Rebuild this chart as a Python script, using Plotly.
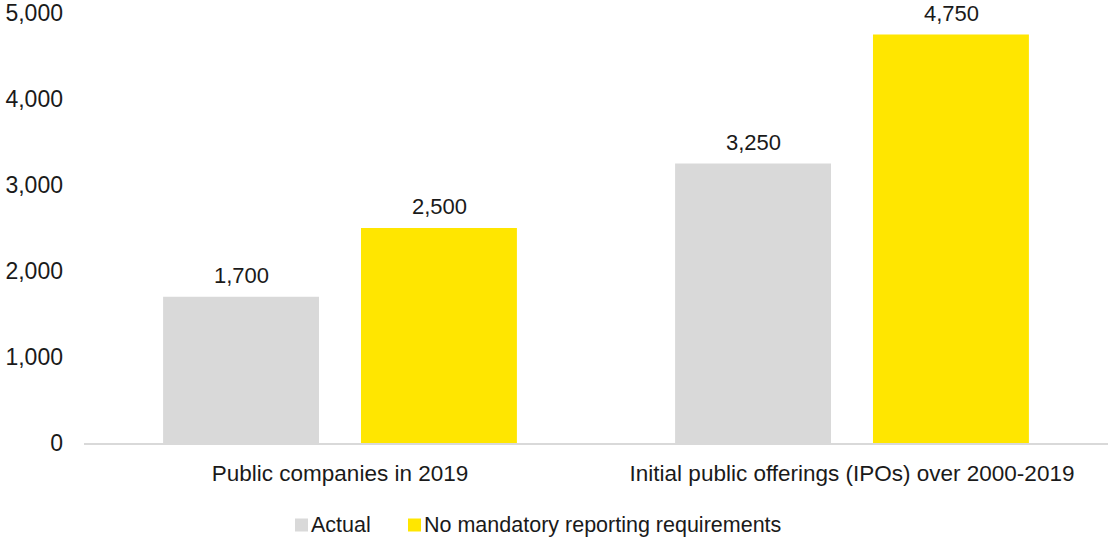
import plotly.graph_objects as go

categories = ["Public companies in 2019", "Initial public offerings (IPOs) over 2000-2019"]
actual = [1700, 3250]
no_mandatory = [2500, 4750]
series_names = ["Actual", "No mandatory reporting requirements"]
colors = ["#D9D9D9", "#FFE600"]
font_family = "Liberation Sans, Arial, sans-serif"
TXT = "#1a1a1a"

# plot-area geometry (pixels)
L, R, T, B = 84, 1, 13, 94
W, H = 1109, 537
PW, PH = W - L - R, H - T - B

fig = go.Figure()
for name, vals, col in zip(series_names, [actual, no_mandatory], colors):
    fig.add_trace(go.Bar(
        x=categories, y=vals, name=name, marker=dict(color=col, line=dict(width=0)),
        hoverinfo="skip", offsetgroup=name, showlegend=False, cliponaxis=False,
    ))

annotations = []
shapes = []
for si, vals in enumerate([actual, no_mandatory]):
    for ci, v in enumerate(vals):
        annotations.append(dict(
            x=ci, y=v, xref="x", yref="y", text=f"{v:,}", showarrow=False,
            yanchor="bottom", yshift=7, xshift=(-99 if si == 0 else 99),
            font=dict(size=22, color=TXT, family=font_family),
        ))

# custom legend (compact, as in the reference)
leg_y_px = 525
leg_items = [(295, series_names[0], colors[0]), (408, series_names[1], colors[1])]
sq = 13
for x0, name, col in leg_items:
    shapes.append(dict(
        type="rect", xref="paper", yref="paper",
        x0=(x0 - L) / PW, x1=(x0 + sq - L) / PW,
        y0=(H - B - (leg_y_px + sq / 2)) / PH, y1=(H - B - (leg_y_px - sq / 2)) / PH,
        fillcolor=col, line=dict(width=0),
    ))
    annotations.append(dict(
        x=(x0 + sq + 1 - L) / PW, y=(H - B - leg_y_px) / PH, xref="paper", yref="paper",
        text=name, showarrow=False, xanchor="left", yanchor="middle",
        font=dict(size=21.5, color=TXT, family=font_family),
    ))

fig.update_layout(
    width=W, height=H,
    margin=dict(l=L, r=R, t=T, b=B),
    paper_bgcolor="white", plot_bgcolor="white",
    barmode="group", bargap=0.227, bargroupgap=0.212,
    font=dict(family=font_family, size=23, color=TXT),
    showlegend=False,
    annotations=annotations, shapes=shapes,
)
fig.update_xaxes(showline=True, linecolor="#D9D9D9", linewidth=2, showgrid=False,
                 ticks="", tickfont=dict(size=22.5), ticklabelstandoff=9)
fig.update_yaxes(range=[0, 5000], showgrid=False, zeroline=False, showline=False,
                 tickvals=[0, 1000, 2000, 3000, 4000, 5000], tickformat=",",
                 ticks="", tickfont=dict(size=23), ticklabelstandoff=20)

fig.write_html("out.html")
